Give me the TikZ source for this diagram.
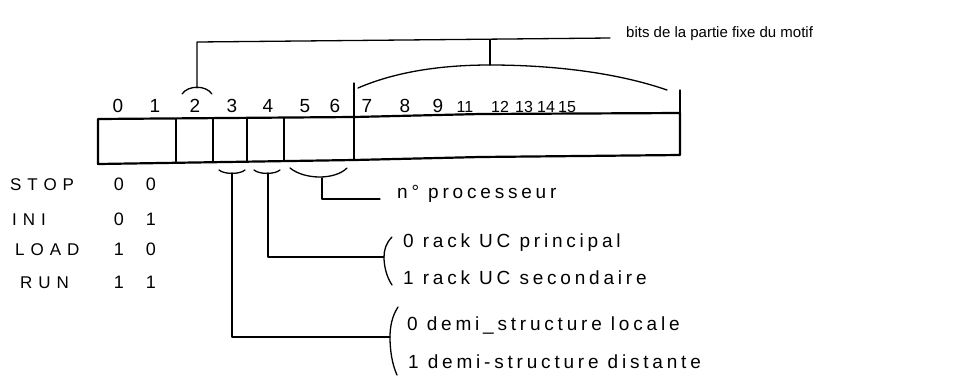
\documentclass[tikz,border=0pt]{standalone}
\usepackage{fontspec}
\setmainfont{Liberation Sans}
\newfontfamily\handA[LetterSpace=20]{Liberation Sans}
\newfontfamily\handT[LetterSpace=35]{Liberation Sans}
\newfontfamily\handB{Liberation Sans}
\begin{document}
\begin{tikzpicture}[x=1pt,y=-1pt,
  boxline/.style={line width=2.2pt,line join=round},
  conn/.style={line width=1.3pt,line cap=round,line join=round},
  lbl/.style={anchor=base west,inner sep=0pt,font=\handA\fontsize{19}{22}\selectfont},
  toplbl/.style={anchor=base west,inner sep=0pt,font=\handB\fontsize{15}{18}\selectfont},
  tbl/.style={anchor=base west,inner sep=0pt,font=\handT\fontsize{17}{20}\selectfont},
  val/.style={anchor=base,inner sep=0pt,font=\handB\fontsize{18}{20}\selectfont},
  dig/.style={anchor=base,inner sep=0pt,font=\handB\fontsize{19}{20}\selectfont},
  digtwo/.style={anchor=base,inner sep=0pt,font=\handB\fontsize{16}{20}\selectfont}]
\useasboundingbox (0,0) rectangle (977,376);
% register box
\draw[boxline] (98,119) -- (354,117) -- (480,114) -- (680,113) -- (680,155) -- (480,157) -- (354,160) -- (98,164) -- cycle;
\foreach \xx/\yt/\yb in {176/118.5/163, 213/118/162.5, 247/118/162, 284/117.5/161, 354/117/160}
  \draw[boxline] (\xx,\yt) -- (\xx,\yb);
% extensions above the box
\draw[conn] (354,83) -- (354,117);
\draw[conn] (680,90) -- (680,113);
% bit numbers
\foreach \xx/\t [count=\i] in {118/0,155/1,195/2,232/3,268/4,305/5,335/6,367/7,405/8,438/9}
  \node[dig] (b\i) at (\xx,112) {\t};
\foreach \xx/\t [count=\i] in {465/11,500/12,524/13,546/14,567/15}
  \node[digtwo] (c\i) at (\xx,112) {\t};
% top bracket
\coordinate (a2) at (197,88);
\coordinate (abig) at (490,65);
\coordinate (topend) at (610,38);
\draw[conn] (182,94) .. controls (188,85) and (206,85) .. (212,94);
\draw[conn] (358,88) .. controls (395,72) and (440,65) .. (abig) .. controls (550,65) and (615,72) .. (667,90);
\node[toplbl] (fixe) at (626,37) {bits de la partie fixe du motif};
\draw[conn] (a2) -- (197,42) -- (topend);
\draw[conn] (abig) -- (490,40);
% bottom brackets
\coordinate (u3) at (232,173);
\coordinate (u4) at (268,173);
\coordinate (u56) at (322,178);
\draw[conn] (219,170) .. controls (224,174.5) and (240,174.5) .. (245,170);
\draw[conn] (254,170) .. controls (259,174.5) and (275,174.5) .. (280,170);
\draw[conn] (290,168) .. controls (305,180) and (335,180) .. (347,168);
% labels
\node[lbl] (proc) at (397,198) {n° processeur};
\node[lbl] (rack0) at (403,247) {0 rack UC principal};
\node[lbl] (rack1) at (403,284) {1 rack UC secondaire};
\node[lbl] (demi0) at (407,330) {0 demi\_structure locale};
\node[lbl] (demi1) at (408,368) {1 demi-structure distante};
% braces
\coordinate (brR) at (384,257);
\coordinate (brD) at (390,337);
\draw[conn] (392,237) .. controls (386,243) and (384,250) .. (brR) .. controls (384,265) and (386,276) .. (392,285);
\draw[conn] (398,307) .. controls (392,316) and (390,327) .. (brD) .. controls (390,350) and (392,364) .. (397,375);
% connectors
\draw[conn] (u56) |- (380,199);
\draw[conn] (u4) |- (brR);
\draw[conn] (u3) |- (brD);
% state table
\node[tbl] (stop) at (10,190) {STOP};
\node[tbl] (ini) at (12,225) {INI};
\node[tbl] (load) at (15,255) {LOAD};
\node[tbl] (run) at (20,288) {RUN};
\node[val] (s1) at (119,190) {0};
\node[val] (s2) at (151,190) {0};
\node[val] (i1) at (119,225) {0};
\node[val] (i2) at (151,225) {1};
\node[val] (l1) at (119,255) {1};
\node[val] (l2) at (151,255) {0};
\node[val] (r1) at (119,288) {1};
\node[val] (r2) at (151,288) {1};
\end{tikzpicture}
\end{document}
